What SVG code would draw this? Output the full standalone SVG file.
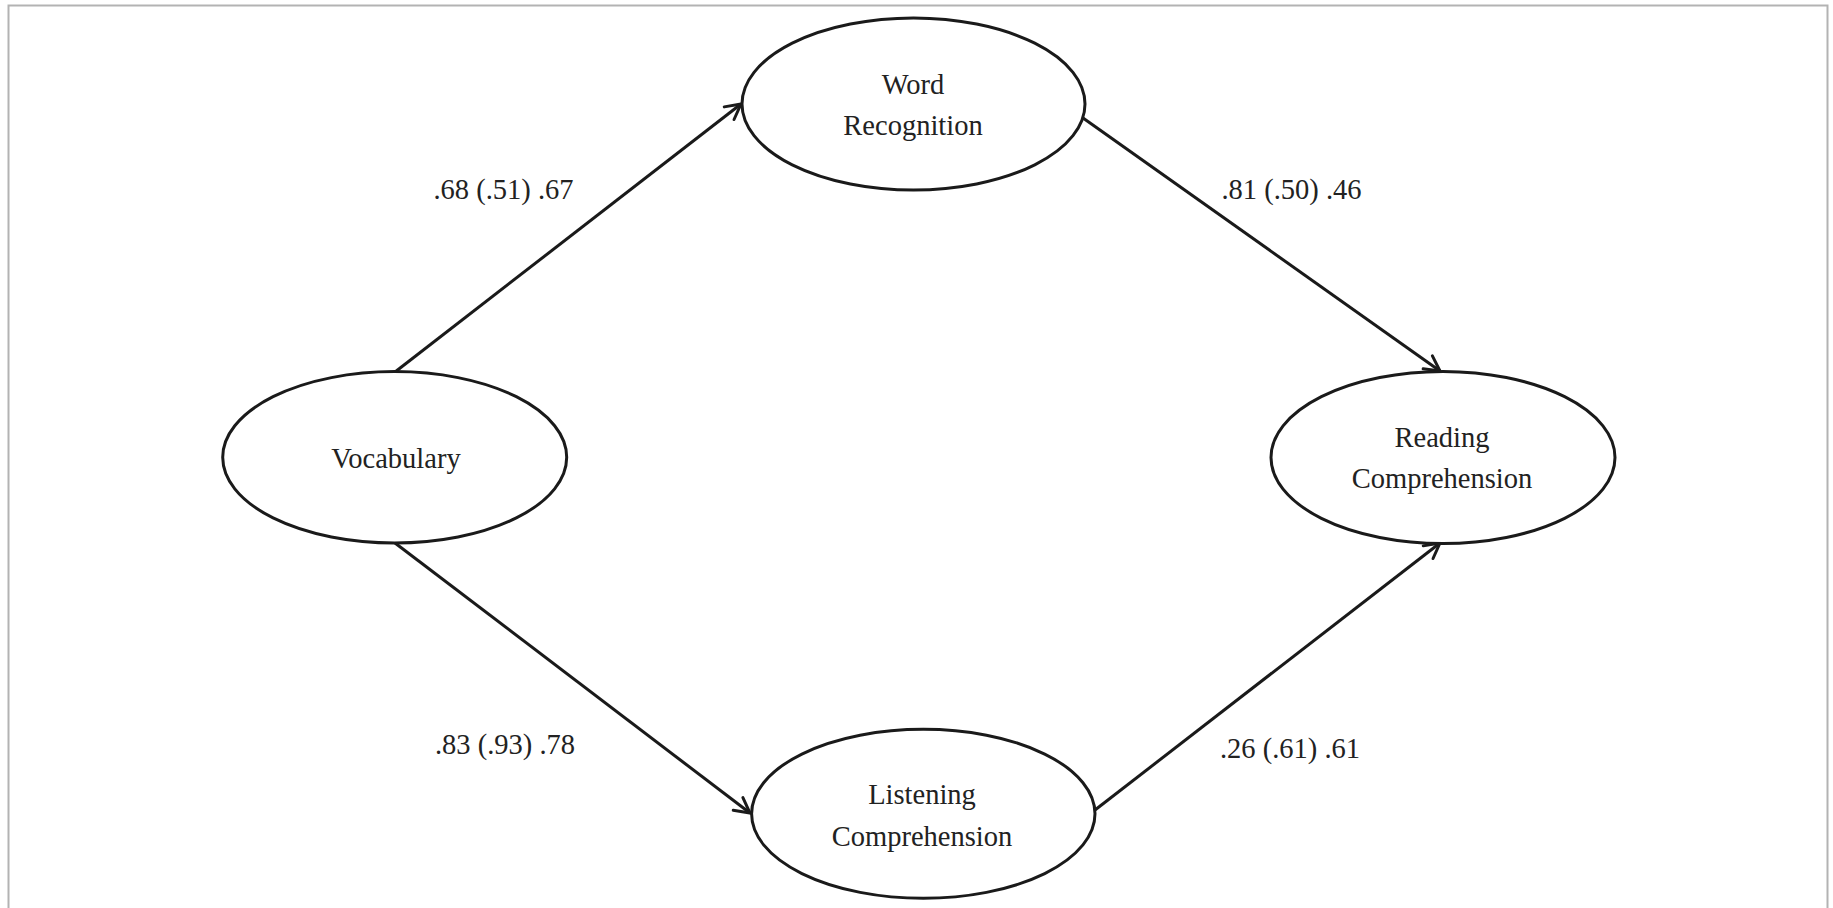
<svg xmlns="http://www.w3.org/2000/svg" width="1833" height="908" viewBox="0 0 1833 908">
<style>
.node{fill:#fff;stroke:#1a1a1a;stroke-width:3}
.lbl{font-family:"Liberation Serif","Times New Roman",serif;font-size:28.5px;fill:#222;text-anchor:middle}
.edge{stroke:#1a1a1a;stroke-width:3;fill:none;marker-end:url(#arr)}
</style>
<defs>
<marker id="arr" markerUnits="userSpaceOnUse" markerWidth="30" markerHeight="30" viewBox="-20 -15 30 30" refX="0" refY="0" orient="auto">
<path d="M -15 -8 L 0 0 L -15 8" fill="none" stroke="#1a1a1a" stroke-width="3" stroke-linecap="round" stroke-linejoin="miter"/>
</marker>
</defs>
<rect x="0" y="0" width="1833" height="908" fill="#fff"/>
<rect x="8.5" y="5.5" width="1819" height="930" fill="none" stroke="#b3b3b3" stroke-width="2"/>
<g id="connectors">
<line class="edge" x1="395" y1="372" x2="741" y2="104"/>
<line class="edge" x1="1083" y1="118" x2="1440" y2="371"/>
<line class="edge" x1="395" y1="543" x2="750" y2="813"/>
<line class="edge" x1="1095" y1="810" x2="1440" y2="543"/>
<text class="lbl" x="503.5" y="199">.68 (.51) .67</text>
<text class="lbl" x="1291.5" y="198.5">.81 (.50) .46</text>
<text class="lbl" x="505" y="753.5">.83 (.93) .78</text>
<text class="lbl" x="1290" y="757.5">.26 (.61) .61</text>
</g>
<g id="word-recognition">
<ellipse class="node" cx="913.5" cy="104" rx="171.5" ry="86"/>
<text class="lbl" x="913" y="93.5">Word</text>
<text class="lbl" x="913" y="135">Recognition</text>
</g>
<g id="vocabulary">
<ellipse class="node" cx="394.7" cy="457.3" rx="172" ry="85.7"/>
<text class="lbl" x="396" y="468">Vocabulary</text>
</g>
<g id="reading-comprehension">
<ellipse class="node" cx="1443" cy="457.5" rx="172" ry="86"/>
<text class="lbl" x="1442" y="447.3">Reading</text>
<text class="lbl" x="1442" y="488.3">Comprehension</text>
</g>
<g id="listening-comprehension">
<ellipse class="node" cx="923.3" cy="813.8" rx="171.7" ry="84.5"/>
<text class="lbl" x="922" y="804">Listening</text>
<text class="lbl" x="922" y="845.7">Comprehension</text>
</g>
</svg>
